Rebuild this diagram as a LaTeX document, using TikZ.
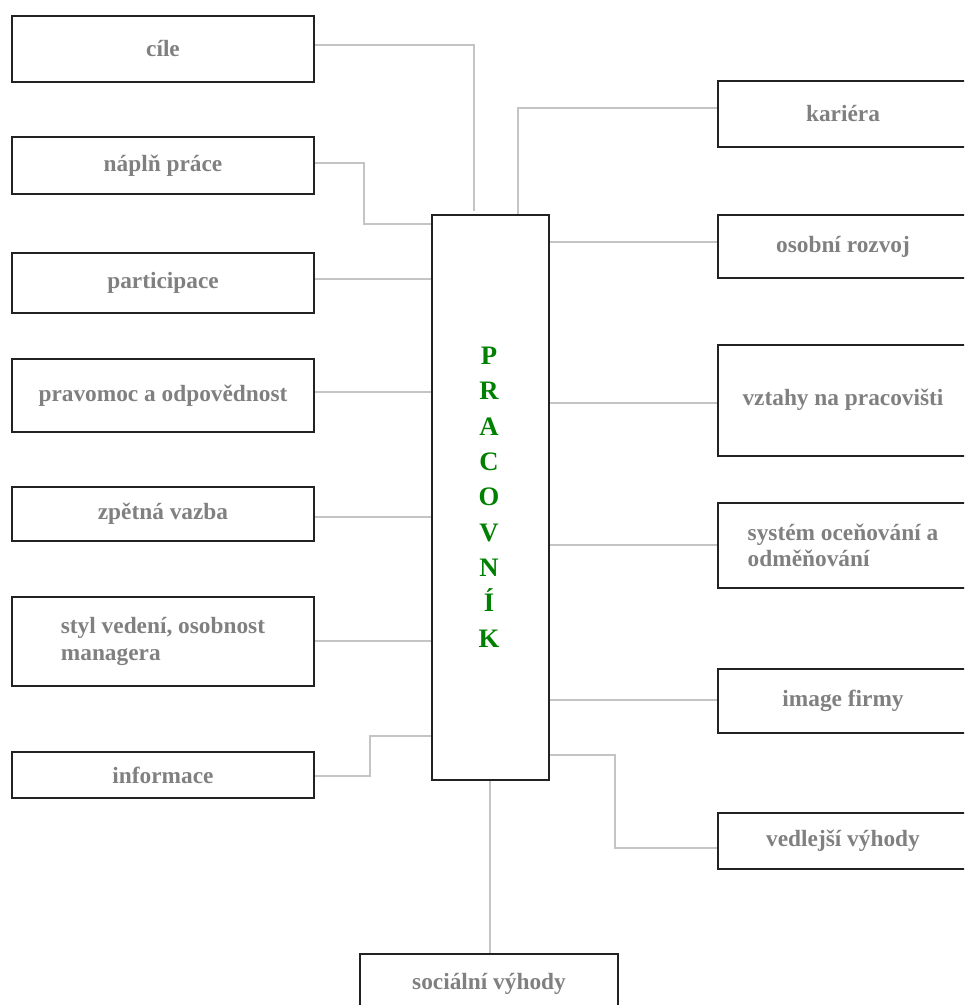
\documentclass[tikz,border=0pt]{standalone}
\usepackage{fontspec}
\setmainfont{Liberation Serif}
\usetikzlibrary{calc}
\definecolor{lblgray}{HTML}{808080}
\definecolor{wiregray}{HTML}{C4C4C4}
\definecolor{boxblack}{HTML}{222222}
\definecolor{namegreen}{HTML}{008000}
% \pbox[options]{name}{x1}{y1}{x2}{y2}{text}: a framed box between two corners
\newcommand\pbox[7][]{%
  \node[pbox, minimum width={(#5-#3)*0.75pt}, minimum height={(#6-#4)*0.75pt}, #1]
    (#2) at ({(#3+#5)/2},{(#4+#6)/2}) {#7};}
\begin{document}
\begin{tikzpicture}[x=0.75pt,y=-0.75pt,
  pbox/.style={draw=boxblack, line width=1.5pt, inner sep=0pt,
    font=\bfseries\fontsize{17.5}{20}\selectfont, text=lblgray, align=center},
  conn/.style={draw=wiregray, line width=1.1pt}]
\clip (0,0) rectangle (964,1005);

% left column
\pbox{cile}{12}{16}{314}{82}{cíle}
\pbox{napln}{12}{137}{314}{194}{náplň práce}
\pbox{partic}{12}{253}{314}{313}{participace}
\pbox{pravomoc}{12}{359}{314}{432}{pravomoc a odpovědnost}
\pbox{zpetna}{12}{487}{314}{541}{zpětná vazba}
\pbox[align=left]{styl}{12}{597}{314}{686}{styl vedení, osobnost\\managera}
\pbox{info}{12}{752}{314}{798}{informace}

% central box
\pbox{prac}{432}{215}{549}{780}{}
\node[text=namegreen, font=\bfseries\fontsize{20}{26.5}\selectfont, align=center]
  (pracname) at (489,497) {P\\R\\A\\C\\O\\V\\N\\Í\\K};

% right column
\pbox{kariera}{718}{81}{968}{147}{kariéra}
\pbox{osobni}{718}{215}{968}{278}{osobní rozvoj}
\pbox{vztahy}{718}{345}{968}{456}{\raisebox{5pt}{vztahy na pracovišti}}
\pbox[align=left]{system}{718}{503}{968}{588}{systém oceňování a\\odměňování}
\pbox{image}{718}{669}{968}{733}{image firmy}
\pbox{vedlejsi}{718}{813}{968}{869}{vedlejší výhody}
\pbox{socialni}{360}{954}{618}{1016}{\raisebox{6pt}{sociální výhody}}

% connectors, left side
\draw[conn] (cile.east |- 0,45) -| ($(prac.north)+(-16.5,-3)$);
\draw[conn] (napln.east |- 0,163) -- (364,163) |- (prac.west |- 0,224);
\draw[conn] (partic.east |- 0,279) -- (prac.west |- 0,279);
\draw[conn] (pravomoc.east |- 0,392) -- (prac.west |- 0,392);
\draw[conn] (zpetna.east |- 0,517) -- (prac.west |- 0,517);
\draw[conn] (styl.east |- 0,641) -- (prac.west |- 0,641);
\draw[conn] (info.east |- 0,776) -- (370,776) |- (prac.west |- 0,736);

% connectors, right side
\draw[conn] (kariera.west |- 0,108) -| ($(prac.north)+(27.5,0)$);
\draw[conn] (prac.east |- 0,242) -- (osobni.west |- 0,242);
\draw[conn] (prac.east |- 0,403) -- (vztahy.west |- 0,403);
\draw[conn] (prac.east |- 0,545) -- (system.west |- 0,545);
\draw[conn] (prac.east |- 0,700) -- (image.west |- 0,700);
\draw[conn] (prac.east |- 0,755) -- (615,755) |- (vedlejsi.west |- 0,848);
\draw[conn] (prac.south -| 490,0) -- (socialni.north -| 490,0);
\end{tikzpicture}
\end{document}
